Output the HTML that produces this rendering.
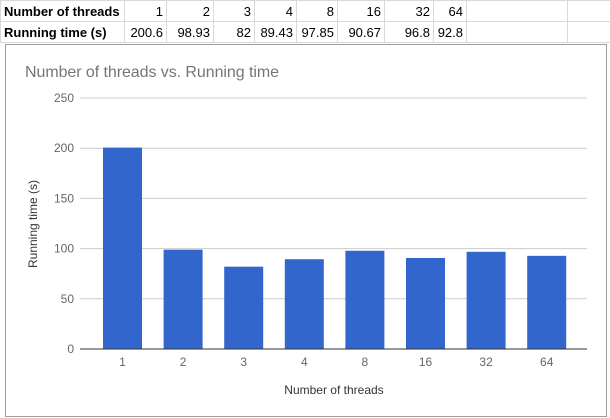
<!DOCTYPE html>
<html><head><meta charset="utf-8"><style>
body{margin:0;width:610px;height:418px;overflow:hidden;background:#fff;font-family:"Liberation Sans",Arial,sans-serif;position:relative}
table{border-collapse:collapse;position:absolute;left:0;top:0;font-size:13px;table-layout:fixed;width:610px}
td{border:1px solid #d9d9d9;height:21px;padding:0 3px;text-align:right;box-sizing:border-box;white-space:nowrap;overflow:hidden}
td.h{font-weight:bold;text-align:left}
#chart{position:absolute;left:5px;top:44px;width:602px;height:373px;border:1px solid #9e9e9e;background:#fff;box-sizing:border-box}
</style></head><body>
<table>
<colgroup><col style="width:124px"><col style="width:42px"><col style="width:47px"><col style="width:41px"><col style="width:42px"><col style="width:41px"><col style="width:47px"><col style="width:49px"><col style="width:33px"><col style="width:101px"><col style="width:43px"></colgroup>
<tr><td class="h">Number of threads</td><td>1</td><td>2</td><td>3</td><td>4</td><td>8</td><td>16</td><td>32</td><td>64</td><td></td><td></td></tr>
<tr><td class="h">Running time (s)</td><td>200.6</td><td>98.93</td><td>82</td><td>89.43</td><td>97.85</td><td>90.67</td><td>96.8</td><td>92.8</td><td></td><td></td></tr>
</table>
<div id="chart">
<svg id="svg" width="610" height="418" style="position:absolute;left:-6px;top:-45px;overflow:visible"></svg>
</div>
<script>
const categories=["1","2","3","4","8","16","32","64"];
const values=[200.6,98.93,82,89.43,97.85,90.67,96.8,92.8];
const ticks=[0,50,100,150,200,250];
const NS="http://www.w3.org/2000/svg";
const svg=document.getElementById('svg');
const y0=349,yTop=98,maxV=250;
const y=v=>y0-(v/maxV)*(y0-yTop);
const x=i=>122.5+i*60.6;
function mk(t,a,txt){const e=document.createElementNS(NS,t);for(const k in a)e.setAttribute(k,a[k]);if(txt!=null)e.textContent=txt;svg.appendChild(e);return e;}
const title=mk('text',{x:25,y:77,'font-size':16,fill:'#757575',textLength:254},'Number of threads vs. Running time');


ticks.forEach(t=>{
 if(t!==0){const g=mk('line',{x1:80,x2:587,y1:y(t),y2:y(t),stroke:'#ccc','stroke-width':1});
 
 }
 const l=mk('text',{x:74,y:y(t)+4,'font-size':12,fill:'#666','text-anchor':'end'},t);
 
 
});
values.forEach((v,i)=>{
 const b=mk('rect',{x:x(i)-19.5,y:y(v),width:39,height:y0-y(v),fill:'#3366cc'});
 
 
 const l=mk('text',{x:x(i),y:366,'font-size':12,fill:'#666','text-anchor':'middle'},categories[i]);
 
 
});
const ax=mk('line',{x1:80,x2:587,y1:y0,y2:y0,stroke:'#333','stroke-width':1});


const xt=mk('text',{x:334,y:394,'font-size':12,fill:'#333','text-anchor':'middle'},'Number of threads');


const yt=mk('text',{x:0,y:0,'font-size':12,fill:'#333','text-anchor':'middle',transform:'translate(37,224) rotate(-90)'},'Running time (s)');


</script>
</body></html>
